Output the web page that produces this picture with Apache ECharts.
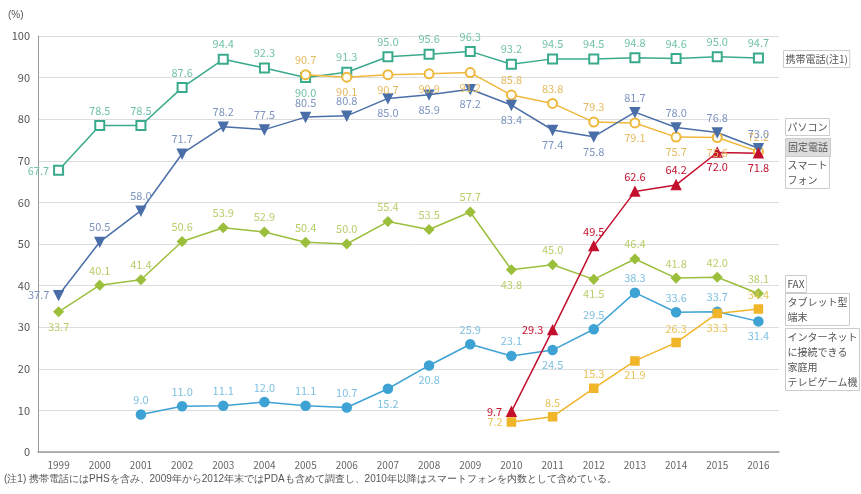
<!DOCTYPE html>
<html>
<head>
<meta charset="UTF-8">
<title>情報通信機器の保有状況</title>
<script src="https://cdn.jsdelivr.net/npm/echarts@6/dist/echarts.min.js"></script>
<style>
  body { margin: 0; background: #fff; }
  #main { width: 861px; height: 494px; }
</style>
</head>
<body>
<div id="main"></div>
<script type="text/javascript">
var years = ['1999','2000','2001','2002','2003','2004','2005','2006','2007','2008','2009','2010','2011','2012','2013','2014','2015','2016'];

var mobile   = [67.7,78.5,78.5,87.6,94.4,92.3,90.0,91.3,95.0,95.6,96.3,93.2,94.5,94.5,94.8,94.6,95.0,94.7];
var pc       = [37.7,50.5,58.0,71.7,78.2,77.5,80.5,80.8,85.0,85.9,87.2,83.4,77.4,75.8,81.7,78.0,76.8,73.0];
var landline = [null,null,null,null,null,null,90.7,90.1,90.7,90.9,91.2,85.8,83.8,79.3,79.1,75.7,75.6,72.2];
var smart    = [null,null,null,null,null,null,null,null,null,null,null,9.7,29.3,49.5,62.6,64.2,72.0,71.8];
var fax      = [33.7,40.1,41.4,50.6,53.9,52.9,50.4,50.0,55.4,53.5,57.7,43.8,45.0,41.5,46.4,41.8,42.0,38.1];
var tablet   = [null,null,null,null,null,null,null,null,null,null,null,7.2,8.5,15.3,21.9,26.3,33.3,34.4];
var game     = [null,null,9.0,11.0,11.1,12.0,11.1,10.7,15.2,20.8,25.9,23.1,24.5,29.5,38.3,33.6,33.7,31.4];

// label placement per point (t = top, b = bottom, l = left)
var posMobile   = 'ltttttbttttttttttt';
var posPc       = 'ltttttttbbbbbbtttt';
var posLand     = '      tbbbbtttbbbt';
var posSmart    = '           lltttbb';
var posFax      = 'bttttttttttbtbtttt';
var posTablet   = '           lttbtbt';
var posGame     = '  ttttttbbttbttttb';

var posMap = { t: 'top', b: 'bottom', l: 'left' };

function build(vals, pos) {
  return vals.map(function (v, i) {
    if (v == null) return null;
    return { value: v, label: { position: posMap[pos.charAt(i)] || 'top' } };
  });
}

function line(name, vals, pos, color, labelColor, symbol, opts) {
  var s = {
    name: name,
    type: 'line',
    data: build(vals, pos),
    symbol: symbol,
    symbolSize: 9,
    lineStyle: { color: color, width: 1.5 },
    itemStyle: { color: color, borderColor: color, borderWidth: 1.5 },
    label: {
      show: true,
      color: labelColor,
      fontSize: 11,
      distance: 4,
      formatter: function (p) { return p.value.toFixed(1); }
    },
    z: 3
  };
  for (var k in opts) s[k] = opts[k];
  return s;
}

var myChart = echarts.init(document.getElementById('main'));

var boxStyle = {
  fill: '#555',
  fontSize: 10,
  fontFamily: 'Noto Sans CJK JP',
  lineHeight: 15,
  borderColor: '#ccc',
  borderWidth: 1,
  padding: [1, 2]
};
function box(x, y, text, bg) {
  var st = {};
  for (var k in boxStyle) st[k] = boxStyle[k];
  st.text = text;
  if (bg) st.backgroundColor = bg;
  return { type: 'text', left: x, top: y, style: st };
}

var option = {
  backgroundColor: '#fff',
  animation: false,
  textStyle: { fontFamily: 'Noto Sans CJK JP' },
  grid: { left: 38, right: 82, top: 36, bottom: 42 },
  xAxis: {
    type: 'category',
    data: years,
    axisLine: { lineStyle: { color: '#999', width: 1.5 } },
    axisTick: { show: false },
    axisLabel: { color: '#666', fontSize: 10, margin: 8 }
  },
  yAxis: {
    type: 'value',
    min: 0,
    max: 100,
    interval: 10,
    axisLine: { show: true, lineStyle: { color: '#999' } },
    axisTick: { show: false },
    axisLabel: { color: '#555', fontSize: 11, margin: 8 },
    splitLine: { lineStyle: { color: '#ddd' } }
  },
  graphic: [
    { type: 'text', left: 8, top: 10, style: { text: '(%)', fill: '#555', fontSize: 10 } },
    box(783, 50, '携帯電話(注1)'),
    box(785, 118, 'パソコン'),
    box(785, 138, '固定電話', '#ddd'),
    box(785, 156, 'スマート\nフォン'),
    box(785, 275, 'FAX'),
    box(785, 293, 'タブレット型\n端末'),
    box(785, 328, 'インターネット\nに接続できる\n家庭用\nテレビゲーム機'),
    { type: 'text', left: 4, top: 474, style: {
      text: '(注1) 携帯電話にはPHSを含み、2009年から2012年末ではPDAも含めて調査し、2010年以降はスマートフォンを内数として含めている。',
      fill: '#555', fontSize: 10 } }
  ],
  series: [
    line('携帯電話(注1)', mobile, posMobile, '#3aaa8c', '#72c2aa', 'emptyRect', {}),
    line('固定電話', landline, posLand, '#efb83c', '#e6bb60', 'emptyCircle', {}),
    line('パソコン', pc, posPc, '#4a6ea8', '#7d94bf', 'triangle', { symbolRotate: 180 }),
    line('FAX', fax, posFax, '#9bbf3c', '#b6cf6a', 'diamond', {}),
    line('インターネットに接続できる家庭用テレビゲーム機', game, posGame, '#3ea2d4', '#7fc0e2', 'circle', {}),
    line('タブレット型端末', tablet, posTablet, '#f1b52a', '#e8c45a', 'rect', { symbolSize: 8 }),
    line('スマートフォン', smart, posSmart, '#c3102e', '#c3102e', 'triangle', {})
  ]
};
myChart.setOption(option, true);
</script>
</body>
</html>
